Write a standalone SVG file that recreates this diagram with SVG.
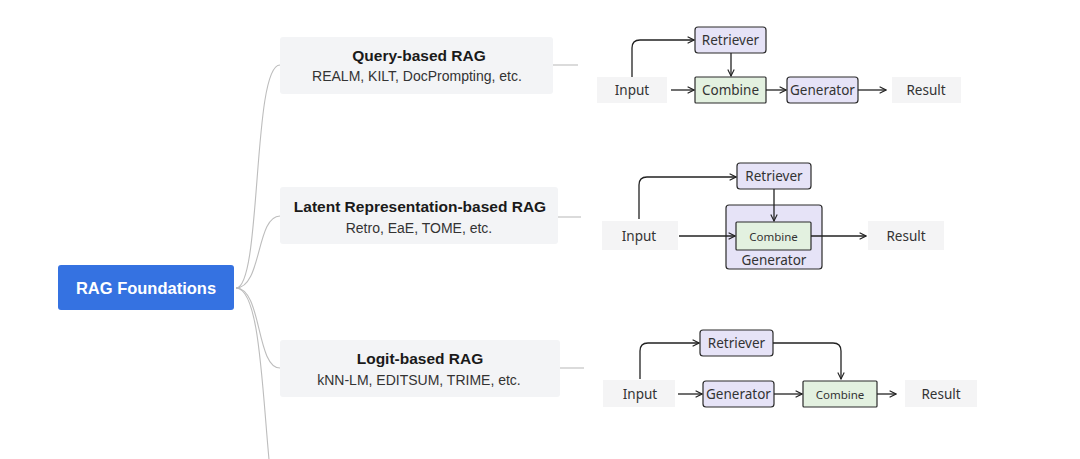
<svg xmlns="http://www.w3.org/2000/svg" width="1080" height="459" viewBox="0 0 1080 459">
<defs>
<marker id="arr" viewBox="0 0 10 10" refX="9" refY="5" markerWidth="8" markerHeight="8" markerUnits="userSpaceOnUse" orient="auto">
<path d="M1,1 L9,5 L1,9" fill="none" stroke="#222" stroke-width="1.4"/>
</marker>
<style>
.card{fill:#f3f4f6}
.ttl{font-family:"Liberation Sans",Arial,sans-serif;font-weight:bold;font-size:15.5px;fill:#1a1a1a;text-anchor:middle}
.sub{font-family:"Liberation Sans",Arial,sans-serif;font-size:14px;fill:#333;text-anchor:middle}
.br{fill:none;stroke:#bdbdbd;stroke-width:1.1}
.io{fill:#f4f4f5}
.lav{fill:#e6e3f7;stroke:#2a2a2a;stroke-width:1.2}
.grn{fill:#e3f1e0;stroke:#2a2a2a;stroke-width:1.2}
.t{font-family:"Noto Sans","Open Sans",sans-serif;font-size:13.5px;fill:#333;text-anchor:middle;dominant-baseline:central}
.ts{font-family:"Noto Sans","Open Sans",sans-serif;font-size:11.5px;fill:#333;text-anchor:middle;dominant-baseline:central}
.ar{fill:none;stroke:#222;stroke-width:1.3;marker-end:url(#arr)}
</style>
</defs>
<rect width="1080" height="459" fill="#ffffff"/>
<g id="root">
<rect x="58" y="265" width="176" height="45" rx="3" fill="#3572e1"/>
<text x="146" y="293.5" font-family="Liberation Sans, Arial, sans-serif" font-weight="bold" font-size="16.5px" fill="#ffffff" text-anchor="middle">RAG Foundations</text>
</g>
<g id="card-query">
<rect class="card" x="280" y="37" width="273" height="57" rx="3"/>
<text class="ttl" x="419" y="61">Query-based RAG</text>
<text class="sub" x="417" y="81">REALM, KILT, DocPrompting, etc.</text>
</g>
<g id="card-latent">
<rect class="card" x="280" y="187" width="278" height="57" rx="3"/>
<text class="ttl" x="420" y="212">Latent Representation-based RAG</text>
<text class="sub" x="419" y="233">Retro, EaE, TOME, etc.</text>
</g>
<g id="card-logit">
<rect class="card" x="280" y="340" width="280" height="57" rx="3"/>
<text class="ttl" x="420" y="364">Logit-based RAG</text>
<text class="sub" x="419" y="385">kNN-LM, EDITSUM, TRIME, etc.</text>
</g>
<g id="d1-input"><rect class="io" x="597" y="77" width="70" height="26"/><text class="t" x="632" y="90">Input</text></g>
<g id="d1-retriever"><rect class="lav" x="695" y="27" width="71" height="26" rx="3"/><text class="t" x="730.5" y="40">Retriever</text></g>
<g id="d1-combine"><rect class="grn" x="695" y="77" width="71" height="26" rx="1"/><text class="t" x="730.5" y="90">Combine</text></g>
<g id="d1-generator"><rect class="lav" x="787" y="77" width="71" height="26" rx="3"/><text class="t" x="822.5" y="90">Generator</text></g>
<g id="d1-result"><rect class="io" x="892" y="77" width="69" height="26"/><text class="t" x="926" y="90">Result</text></g>
<g id="d2-input"><rect class="io" x="602" y="221" width="76" height="29"/><text class="t" x="639" y="236">Input</text></g>
<g id="d2-retriever"><rect class="lav" x="737" y="163" width="74" height="26" rx="3"/><text class="t" x="774" y="176">Retriever</text></g>
<g id="d2-generator"><rect class="lav" x="726" y="205" width="96" height="64" rx="3"/><text class="t" x="774" y="260">Generator</text></g>
<g id="d2-combine"><rect class="grn" x="736" y="222" width="75" height="28" rx="1"/><text class="ts" x="773.5" y="236">Combine</text></g>
<g id="d2-result"><rect class="io" x="868" y="221" width="76" height="29"/><text class="t" x="906" y="236">Result</text></g>
<g id="d3-input"><rect class="io" x="603" y="380" width="72" height="27"/><text class="t" x="640" y="394">Input</text></g>
<g id="d3-retriever"><rect class="lav" x="700" y="330" width="73" height="26" rx="3"/><text class="t" x="736.5" y="343">Retriever</text></g>
<g id="d3-generator"><rect class="lav" x="703" y="381" width="71" height="26" rx="3"/><text class="t" x="738.5" y="394">Generator</text></g>
<g id="d3-combine"><rect class="grn" x="803" y="381" width="74" height="26" rx="1"/><text class="ts" x="840" y="394">Combine</text></g>
<g id="d3-result"><rect class="io" x="905" y="380" width="72" height="27"/><text class="t" x="941" y="394">Result</text></g>
<g id="connectors">
<path class="br" d="M236,288 C262,288 252,65 280,65"/>
<path class="br" d="M236,288 C262,288 256,216 280,216"/>
<path class="br" d="M236,288 C262,288 256,368 280,368"/>
<path class="br" d="M236,288 C260,288 262,390 270,470"/>
<path class="br" d="M553,65 H578"/>
<path class="br" d="M558,217 H581"/>
<path class="br" d="M560,368 H584"/>
<path class="ar" d="M632,77 V48 Q632,40 640,40 H694"/>
<path class="ar" d="M731,53 V76"/>
<path class="ar" d="M671,90 H694"/>
<path class="ar" d="M766,90 H786"/>
<path class="ar" d="M858,90 H886"/>
<path class="ar" d="M639,219 V185 Q639,177 647,177 H736"/>
<path class="ar" d="M774,189 V221"/>
<path class="ar" d="M679,236 H735"/>
<path class="ar" d="M811,236 H866"/>
<path class="ar" d="M640,379 V351 Q640,343 648,343 H699"/>
<path class="ar" d="M773,343 H833 Q841,343 841,351 V379"/>
<path class="ar" d="M678,394 H702"/>
<path class="ar" d="M774,394 H802"/>
<path class="ar" d="M877,394 H896"/>
</g>
</svg>
